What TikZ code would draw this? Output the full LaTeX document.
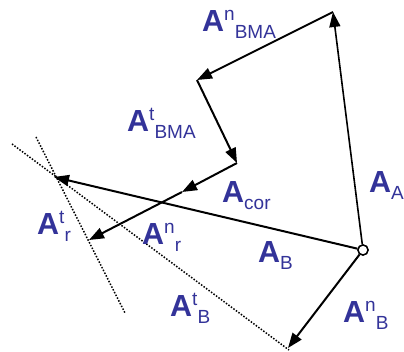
\documentclass[tikz,border=0pt]{standalone}
\usepackage{fontspec}
\setmainfont{Liberation Sans}
\usetikzlibrary{arrows.meta}
\definecolor{lblue}{RGB}{51,51,153}
\newcommand{\Alab}[2]{{\fontsize{30.5pt}{31pt}\selectfont\bfseries A}\raisebox{11pt}{\fontsize{19pt}{19pt}\selectfont #1}\raisebox{-7pt}{\fontsize{19pt}{19pt}\selectfont #2}}
\begin{document}
\begin{tikzpicture}[x=1pt,y=-1pt,
  vec/.style={line width=2pt,-{Triangle[length=15pt,width=11pt]}},
  dotline/.style={line width=1.5pt,dash pattern=on 1.5pt off 1.6pt},
  lab/.style={anchor=base west,inner sep=0pt,text=lblue},
  pole/.style={circle,draw,line width=1.4pt,fill=white,minimum size=10pt,inner sep=0pt}]
\useasboundingbox (0,0) rectangle (404,352);
% points
\coordinate (P1) at (333,12);
\coordinate (P2) at (197,80);
\coordinate (P3) at (237,163);
\coordinate (P4) at (182,192);
\coordinate (P5) at (89,240);
\coordinate (PB) at (54,177);
\coordinate (PN) at (288,348);
\coordinate (D1a) at (12,144);
\coordinate (D1b) at (289,350);
\coordinate (D2a) at (36,137);
\coordinate (D2b) at (125,313);
% dotted construction lines
\draw[dotline] (D1a) -- (D1b);
\draw[dotline] (D2a) -- (D2b);
% pole
\node[pole] (O) at (363,250) {};
% vectors
\draw[vec,line width=1.6pt] (O) -- (P1);
\draw[vec] (P1) -- (P2);
\draw[vec] (P2) -- (P3);
\draw[vec] (P3) -- (P4);
\draw[vec] (P4) -- (P5);
\draw[vec] (O) -- (PB);
\draw[vec] (O) -- (PN);
\node[pole] at (O) {};
% labels
\node[lab] (lnBMA) at (202,32) {\Alab{n}{BMA}};
\node[lab] (ltBMA) at (127,132) {\Alab{t}{BMA}};
\node[lab] (lcor) at (222,203) {\Alab{}{cor}};
\node[lab] (lAA) at (369,193) {\Alab{}{A}};
\node[lab] (ltr) at (37,235) {\Alab{t}{r}};
\node[lab] (lnr) at (142,245) {\Alab{n}{r}};
\node[lab] (lAB) at (258,263) {\Alab{}{B}};
\node[lab] (ltB) at (170,317) {\Alab{t}{B}};
\node[lab] (lnB) at (343,323) {\Alab{n}{B}};
\end{tikzpicture}
\end{document}
